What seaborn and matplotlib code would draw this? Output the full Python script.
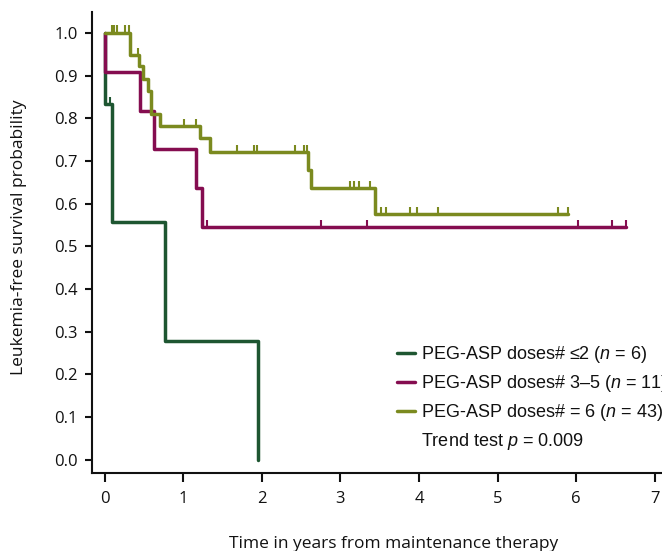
import numpy as np
import pandas as pd
import matplotlib
matplotlib.use("Agg")
import matplotlib.pyplot as plt
from matplotlib.lines import Line2D
from matplotlib.markers import MarkerStyle
from matplotlib.transforms import Affine2D
import seaborn as sns

# ---------------- data ----------------
groups = ["PEG-ASP doses# ≤2 ($n$ = 6)",
          "PEG-ASP doses# 3–5 ($n$ = 11)",
          "PEG-ASP doses# = 6 ($n$ = 43)"]
colors = ["#1e5631", "#850d50", "#7b8a1f"]
trend_label = "Trend test $p$ = 0.009"

low_time = [0, 0.01, 0.095, 0.77, 1.95]
low_surv = [1.0, 0.833, 0.556, 0.278, 0.0]
low_cens_time = [0.067]
low_cens_surv = [0.833]

mid_time = [0, 0.01, 0.455, 0.625, 1.166, 1.24, 6.63]
mid_surv = [1.0, 0.909, 0.818, 0.727, 0.636, 0.545, 0.545]
mid_cens_time = [1.30, 2.75, 3.34, 6.02, 6.45, 6.63]
mid_cens_surv = [0.545, 0.545, 0.545, 0.545, 0.545, 0.545]

high_time = [0, 0.32, 0.445, 0.487, 0.55, 0.593, 0.70, 1.21, 1.345,
             2.585, 2.63, 3.44, 5.89]
high_surv = [1.0, 0.948, 0.922, 0.893, 0.864, 0.810, 0.781, 0.753, 0.720,
             0.678, 0.636, 0.575, 0.575]
high_cens_time = [0.10, 0.12, 0.16, 0.26, 0.31, 0.42, 1.01, 1.16,
                  1.68, 1.90, 1.94, 2.42, 2.54, 2.57,
                  3.12, 3.17, 3.24, 3.38,
                  3.52, 3.58, 3.89, 3.98, 4.24, 5.77, 5.89]
high_cens_surv = [1.0, 1.0, 1.0, 1.0, 1.0, 0.948, 0.781, 0.781,
                  0.720, 0.720, 0.720, 0.720, 0.720, 0.720,
                  0.636, 0.636, 0.636, 0.636,
                  0.575, 0.575, 0.575, 0.575, 0.575, 0.575, 0.575]

x_ticks = [0, 1, 2, 3, 4, 5, 6, 7]
y_ticks = [0.0, 0.1, 0.2, 0.3, 0.4, 0.5, 0.6, 0.7, 0.8, 0.9, 1.0]
x_label = "Time in years from maintenance therapy"
y_label = "Leukemia-free survival probability"

# ---------------- tables ----------------
curve_df = pd.concat([
    pd.DataFrame({"group": groups[0], "time": low_time, "surv": low_surv}),
    pd.DataFrame({"group": groups[1], "time": mid_time, "surv": mid_surv}),
    pd.DataFrame({"group": groups[2], "time": high_time, "surv": high_surv}),
], ignore_index=True)
cens_df = pd.concat([
    pd.DataFrame({"group": groups[0], "time": low_cens_time, "surv": low_cens_surv}),
    pd.DataFrame({"group": groups[1], "time": mid_cens_time, "surv": mid_cens_surv}),
    pd.DataFrame({"group": groups[2], "time": high_cens_time, "surv": high_cens_surv}),
], ignore_index=True)

# ---------------- style ----------------
sns.set_style("ticks")
plt.rcParams["font.family"] = ["Open Sans", "DejaVu Sans"]
plt.rcParams["mathtext.fontset"] = "custom"
plt.rcParams["mathtext.rm"] = "Liberation Sans"
plt.rcParams["mathtext.it"] = "Liberation Sans:italic"

ink = "#111111"

fig = plt.figure(figsize=(6.62, 5.51), dpi=100)
ax = fig.add_axes([0.1385, 0.141, 0.8615, 0.837])

sns.lineplot(data=curve_df, x="time", y="surv", hue="group",
             hue_order=groups, palette=colors, drawstyle="steps-post",
             estimator=None, sort=False, linewidth=2.5, legend=False,
             ax=ax, zorder=2)

tick_marker = MarkerStyle("|", transform=Affine2D().translate(0, 0.5))
sns.scatterplot(data=cens_df, x="time", y="surv", hue="group",
                hue_order=groups, palette=colors, marker=tick_marker,
                s=30, linewidth=1.5, legend=False, ax=ax, zorder=3)

ax.set_xlim(-0.163, 7.09)
ax.set_ylim(-0.032, 1.049)
ax.set_xticks(x_ticks)
ax.set_xticklabels([str(v) for v in x_ticks])
ax.set_yticks(y_ticks)
ax.set_yticklabels([f"{v:.1f}" for v in y_ticks])

for side in ["top", "right"]:
    ax.spines[side].set_visible(False)
for side in ["left", "bottom"]:
    ax.spines[side].set_linewidth(1.5)
    ax.spines[side].set_color(ink)

ax.tick_params(axis="x", length=6.5, width=1.5, pad=6, labelsize=12,
               colors=ink)
ax.tick_params(axis="y", length=5, width=1.5, pad=5, labelsize=12,
               colors=ink)

ax.set_xlabel(x_label, fontsize=12.5, color=ink, va="center")
ax.set_ylabel(y_label, fontsize=12.5, color=ink, va="center")
ax.xaxis.set_label_coords(0.530, -0.153)
ax.yaxis.set_label_coords(-0.128, 0.512)

handles = [Line2D([], [], color=c, lw=2.5) for c in colors]
handles.append(Line2D([], [], color="none"))
labels = groups + [trend_label]
fig.legend(handles, labels, loc="upper left",
           bbox_to_anchor=(397 / 662, 1 - 344 / 551),
           frameon=False,
           prop={"family": "Liberation Sans", "size": 13},
           labelcolor=ink,
           handlelength=1.0, handletextpad=0.33, labelspacing=0.45,
           borderpad=0, borderaxespad=0)

fig.savefig("out.png", dpi=100)
